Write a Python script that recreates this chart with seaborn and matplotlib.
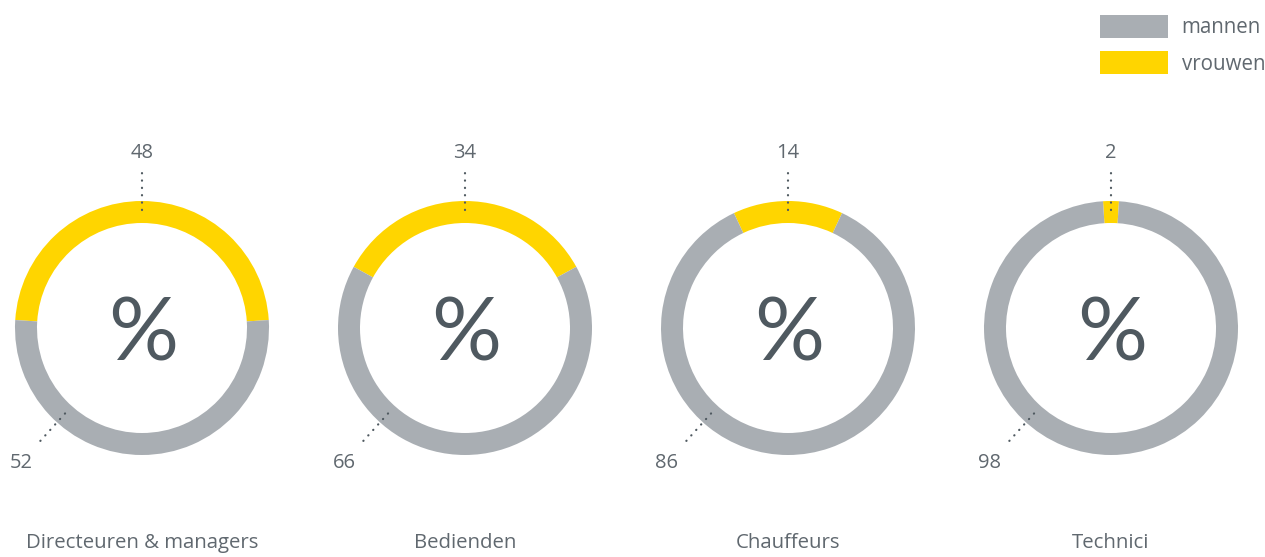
import numpy as np
import matplotlib
matplotlib.use("Agg")
import matplotlib.pyplot as plt
from matplotlib.patches import Patch
import seaborn as sns

# data (percent)
categorieen = ["Directeuren & managers", "Bedienden", "Chauffeurs", "Technici"]
mannen = [52, 66, 86, 98]
vrouwen = [48, 34, 14, 2]
reeksen = ["mannen", "vrouwen"]

sns.set_theme(style="white")
plt.rcParams['font.family'] = ['Open Sans', 'DejaVu Sans']

kleuren = sns.color_palette(["#a9aeb3", "#ffd500"])
grijs = kleuren[0]
geel = kleuren[1]
tekst = "#60686f"
donker = "#4f5960"

W, H = 1265, 557
fig = plt.figure(figsize=(W / 100, H / 100), dpi=100)

# layout in pixels
cy = 328
eerste_x = 142
stap = 323
half = 161
R = 127
ring = 22

for i, (cat, m, v) in enumerate(zip(categorieen, mannen, vrouwen)):
    cx = eerste_x + i * stap
    ax = fig.add_axes([(cx - half) / W, 0, 2 * half / W, 1])
    hoek = v / 100 * 360
    ax.pie([v, m], colors=[geel, grijs], startangle=90 - hoek / 2,
           counterclock=True, radius=R,
           wedgeprops=dict(width=ring, linewidth=0))
    ax.set_xlim(-half, half)
    ax.set_ylim(-(H - cy), cy)
    ax.set_aspect('auto')
    ax.axis('off')

    # vrouwen label at top
    ax.plot([0, 0], [118, 160], color=donker, lw=1.6,
            linestyle=(0, (0.1, 3.2)), dash_capstyle='round')
    ax.text(0, 175, f"{v}", ha='center', va='center', fontsize=14.5, color=tekst)

    # mannen label lower left
    a = np.deg2rad(228)
    ax.plot([115 * np.cos(a), 158 * np.cos(a)], [115 * np.sin(a), 158 * np.sin(a)],
            color=donker, lw=1.6, linestyle=(0, (0.1, 3.2)), dash_capstyle='round')
    ax.text(181 * np.cos(a), 181 * np.sin(a), f"{m}", ha='center', va='center',
            fontsize=14.5, color=tekst)

    ax.text(1, -8, "%", ha='center', va='center', fontsize=63, color=donker,
            family=['Lato', 'DejaVu Sans'], fontweight='normal')
    ax.text(0, -(H - cy) + 14, cat, ha='center', va='center', fontsize=14.7, color=tekst)

handles = [Patch(facecolor=grijs, edgecolor='none'), Patch(facecolor=geel, edgecolor='none')]
leg = fig.legend(handles, reeksen, loc='upper right', bbox_to_anchor=(1265 / W, 1 - 15 / H),
                 frameon=False, fontsize=14.8, handlelength=3.3, handleheight=1.32,
                 handletextpad=0.65, labelspacing=0.64, borderaxespad=0, borderpad=0)
for t in leg.get_texts():
    t.set_color(tekst)

fig.savefig("out.png", dpi=100, facecolor='white')
